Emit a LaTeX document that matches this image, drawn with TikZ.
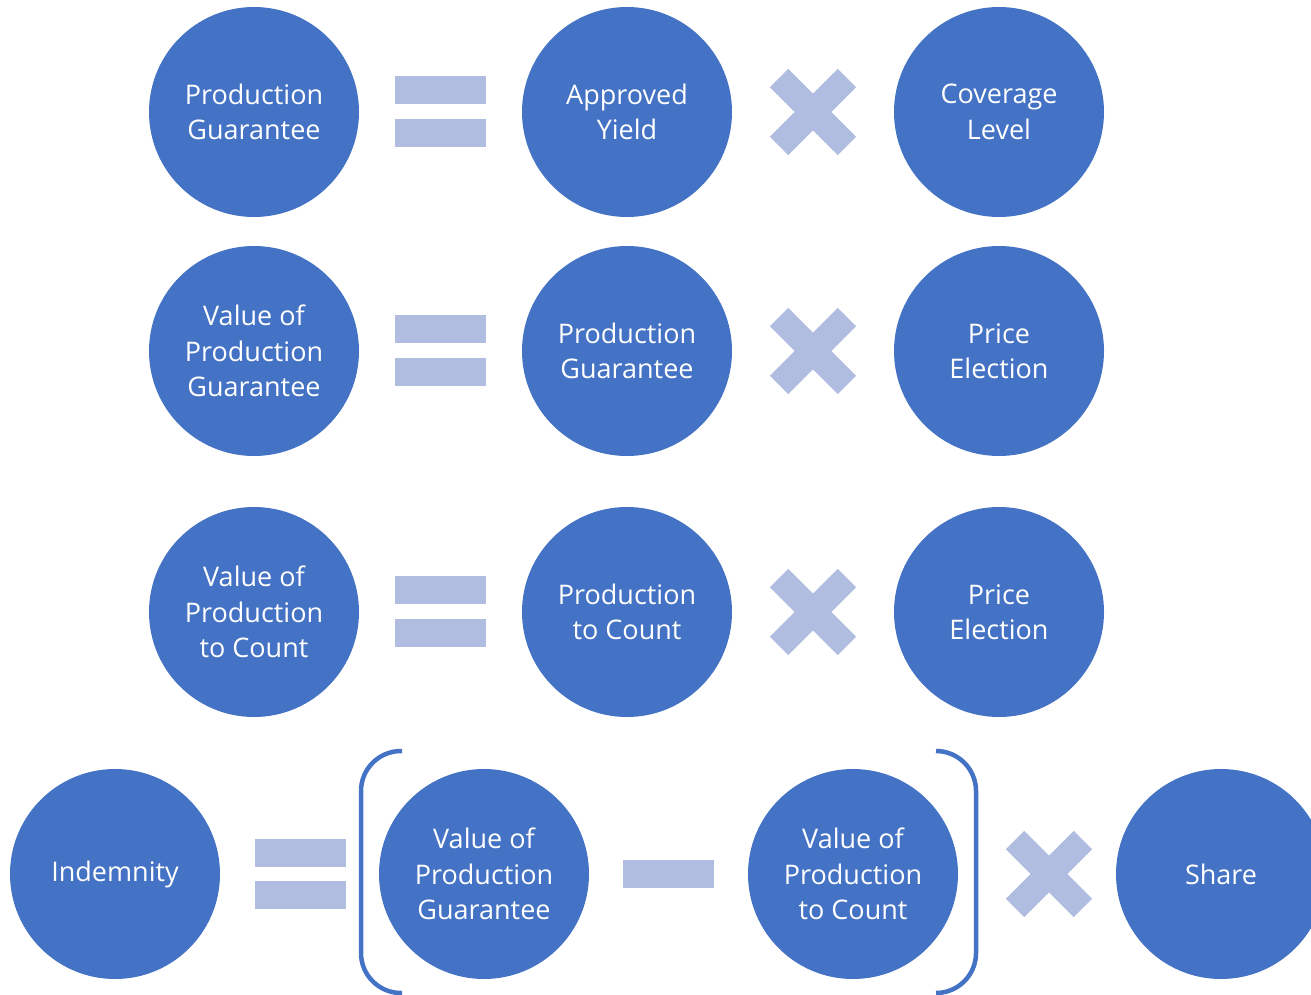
\documentclass[tikz,border=0pt]{standalone}
\usepackage{fontspec}
\setmainfont{Open Sans}
\definecolor{circ}{HTML}{4472C4}
\definecolor{sym}{HTML}{B1BDE0}
\begin{document}
\begin{tikzpicture}[x=1pt,y=-1pt,
  ball/.style={circle,fill=circ,minimum size=210pt,inner sep=0pt,text=white,align=center,
    font=\fontsize{27}{35.5}\selectfont},
  bar/.style={rectangle,fill=sym,minimum width=91pt,minimum height=28pt,inner sep=0pt},
  arm/.style={rectangle,fill=sym,minimum width=96pt,minimum height=26pt,inner sep=0pt},
  brk/.style={draw=circ,line width=4.5pt,rounded corners=40pt}]
\useasboundingbox (0,0) rectangle (1311,995);
% row 1
\node[ball] (pg1) at (254,112) {Production\\Guarantee};
\node[ball] (ay1) at (627,112) {Approved\\Yield};
\node[ball] (cl1) at (999,112) {Coverage\\Level};
\node[bar] (eq1a) at (440,90) {};
\node[bar] (eq1b) at (440,133) {};
\node[arm,rotate=45] (x1a) at (813,112) {};
\node[arm,rotate=-45] (x1b) at (813,112) {};
% row 2
\node[ball] (vpg2) at (254,351) {Value of\\Production\\Guarantee};
\node[ball] (pg2) at (627,351) {Production\\Guarantee};
\node[ball] (pe2) at (999,351) {Price\\Election};
\node[bar] (eq2a) at (440,329) {};
\node[bar] (eq2b) at (440,372) {};
\node[arm,rotate=45] (x2a) at (813,351) {};
\node[arm,rotate=-45] (x2b) at (813,351) {};
% row 3
\node[ball] (vpc3) at (254,612) {Value of\\Production\\to Count};
\node[ball] (pc3) at (627,612) {Production\\to Count};
\node[ball] (pe3) at (999,612) {Price\\Election};
\node[bar] (eq3a) at (440,590) {};
\node[bar] (eq3b) at (440,633) {};
\node[arm,rotate=45] (x3a) at (813,612) {};
\node[arm,rotate=-45] (x3b) at (813,612) {};
% row 4
\node[ball] (ind) at (115,874) {Indemnity};
\node[ball] (vpg4) at (484,874) {Value of\\Production\\Guarantee};
\node[ball] (vpc4) at (853,874) {Value of\\Production\\to Count};
\node[ball] (sh) at (1221,874) {Share};
\node[bar] (eq4a) at (300,853) {};
\node[bar] (eq4b) at (300,895) {};
\node[bar] (minus) at (668,874) {};
\node[arm,rotate=45] (x4a) at (1049,874) {};
\node[arm,rotate=-45] (x4b) at (1049,874) {};
% brackets
\coordinate (lbt) at (402,751);
\coordinate (lbb) at (402,993);
\coordinate (rbt) at (936,751);
\coordinate (rbb) at (936,993);
\draw[brk] (lbt) -- (361,751) -- (361,993) -- (lbb);
\draw[brk] (rbt) -- (976,751) -- (976,993) -- (rbb);
\end{tikzpicture}
\end{document}
